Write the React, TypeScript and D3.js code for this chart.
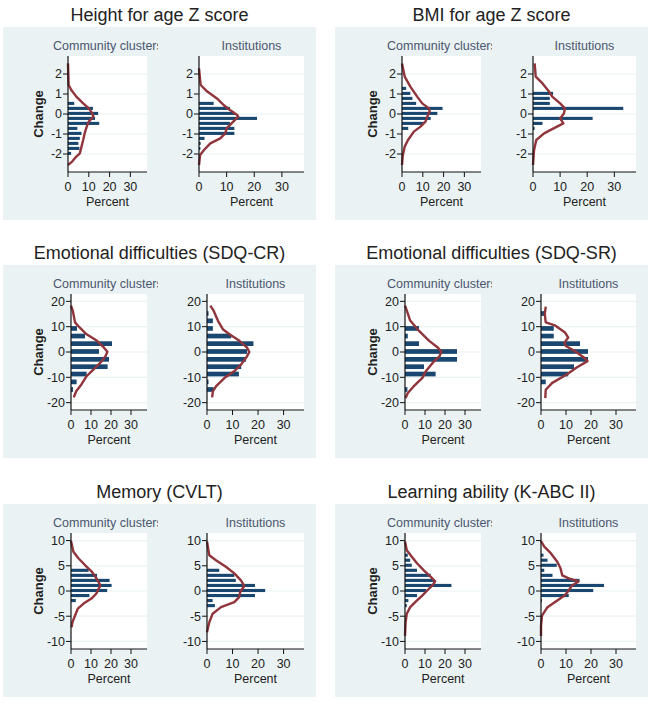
import React from "react";
import * as d3 from "d3";

type Pt = [number, number]; // [change, percent]

// Height for age Z score
const hfaCommBars: Pt[] = [[0.53, 3], [0.28, 12], [0.03, 14.5], [-0.22, 13], [-0.47, 15], [-0.72, 4.5], [-0.97, 6.5], [-1.22, 5.7], [-1.47, 5], [-1.72, 5.5], [-1.97, 1.5]];
const hfaCommCurve: Pt[] = [[2.53, 0], [1.45, 0.3], [1.2, 1.6], [0.87, 4], [0.53, 7.3], [0.28, 10], [0.03, 11.7], [-0.13, 12.2], [-0.38, 10], [-0.63, 9], [-0.97, 8], [-1.3, 7.3], [-1.63, 6.5], [-1.97, 5.7], [-2.13, 4], [-2.38, 2], [-2.55, 0]];
const hfaInstBars: Pt[] = [[0.53, 5.3], [0.28, 11.2], [0.03, 13], [-0.22, 21], [-0.47, 11.2], [-0.72, 12.8], [-0.97, 12.8], [-1.22, 2], [-1.47, 0.6], [-1.72, 0.5]];
const hfaInstCurve: Pt[] = [[2.28, 0], [1.45, 0.6], [1.12, 3], [0.78, 6.5], [0.45, 8.9], [0.2, 11.2], [-0.05, 13.8], [-0.13, 14.2], [-0.38, 12.4], [-0.72, 10], [-0.97, 9.5], [-1.22, 7.7], [-1.47, 4.1], [-1.8, 1.8], [-2.05, 0.4], [-2.55, 0]];

// BMI for age Z score
const bmiCommBars: Pt[] = [[1.28, 2], [1.03, 4], [0.78, 5], [0.53, 6.8], [0.28, 19.5], [0.03, 17], [-0.22, 13.8], [-0.47, 10.5], [-0.72, 3]];
const bmiCommCurve: Pt[] = [[2.53, 0], [1.87, 1.3], [1.37, 4], [0.87, 7.3], [0.53, 9.7], [0.28, 13], [0.12, 13.3], [-0.13, 12.2], [-0.38, 11.3], [-0.63, 8.9], [-0.88, 5.7], [-1.3, 2.9], [-1.63, 1.3], [-2.13, 0.3], [-2.55, 0]];
const bmiInstBars: Pt[] = [[1.03, 7.4], [0.78, 6.2], [0.53, 6.2], [0.28, 33.3], [-0.22, 22], [-0.47, 3.5], [-0.72, 0.6]];
const bmiInstCurve: Pt[] = [[2.53, 0.6], [1.87, 1], [1.53, 3.5], [1.12, 5.9], [0.87, 7.1], [0.53, 10], [0.28, 11.8], [0.03, 11.4], [-0.22, 10], [-0.47, 11.2], [-0.72, 7.6], [-0.97, 4.1], [-1.3, 1.2], [-1.8, 0.4], [-2.55, 0]];

// Emotional difficulties (SDQ-CR)
const crCommBars: Pt[] = [[9.3, 3], [6.3, 7], [3.3, 20.5], [0.2, 14], [-2.9, 19], [-5.8, 18.3], [-8.7, 7.8], [-11.8, 2.8], [-14.8, 1]];
const crCommCurve: Pt[] = [[18.3, 0], [16.3, 0.9], [11.7, 2], [9.7, 4.3], [7, 7.8], [4.4, 13], [1.7, 16.5], [0.1, 18.2], [-1.6, 17.3], [-4.2, 14.7], [-6.9, 11.3], [-9.5, 7.8], [-12.8, 5.2], [-15.5, 2.6], [-17.9, 1.4]];
const crInstBars: Pt[] = [[15.2, 0.6], [12.3, 2.3], [9.3, 2.3], [6.3, 9.5], [3.3, 18.2], [0.2, 15.7], [-2.9, 15.3], [-5.8, 13.4], [-8.7, 12.5], [-11.8, 0.6], [-14.8, 2.6]];
const crInstCurve: Pt[] = [[18.3, 1.3], [16.3, 2.6], [12.3, 4.3], [9, 6.2], [7, 8.8], [4.4, 12.7], [1.7, 15.7], [0, 16.6], [-2.3, 15.3], [-4.9, 13.4], [-7.5, 10.8], [-10.2, 6.9], [-13.5, 3.6], [-15.5, 2.3], [-17.9, 2]];

// Emotional difficulties (SDQ-SR)
const srCommBars: Pt[] = [[9.3, 7], [6.3, 1.4], [3.3, 7], [0.2, 26], [-2.9, 26], [-5.8, 9.5], [-8.7, 15.3], [-14.8, 1.2]];
const srCommCurve: Pt[] = [[18.3, 0], [16.3, 0.9], [12.4, 2.6], [8.4, 6.9], [4.4, 12.1], [1.7, 16.5], [0.1, 18.2], [-1.6, 17.3], [-4.2, 13.9], [-7.6, 10.4], [-10.2, 8.7], [-13.6, 4.3], [-16.2, 1.4], [-18.2, 0.3]];
const srInstBars: Pt[] = [[15.2, 1.7], [9.3, 5.1], [6.3, 5.1], [3.3, 15.6], [0.2, 18.8], [-2.9, 18.8], [-5.8, 13.2], [-8.7, 10.9], [-11.8, 1.9]];
const srInstCurve: Pt[] = [[17.9, 1.9], [15, 1.5], [11.7, 1.9], [10.4, 5.8], [7.7, 9.6], [5.7, 10.9], [3.7, 9.4], [2.4, 9.9], [0.4, 13.5], [-2.3, 17.3], [-3.6, 18.6], [-6.2, 14.1], [-8.9, 10.3], [-12.2, 4.5], [-14.9, 1.9], [-18.2, 1.7]];

// Memory (CVLT)
const cvltCommBars: Pt[] = [[4.1, 8.8], [3.1, 13], [2.1, 19.3], [1.1, 20.3], [0.1, 18.1], [-0.9, 9.2], [-1.9, 2.4]];
const cvltCommCurve: Pt[] = [[9.9, 0], [7.8, 1.2], [6.5, 3.7], [5.1, 7.1], [3.8, 10.5], [2.5, 12.7], [1.1, 14.7], [0.5, 13.9], [-0.5, 12.7], [-1.5, 10.2], [-2.5, 6.3], [-3.5, 3.4], [-4.9, 2], [-6.2, 0.7], [-7.2, 0.3]];
const cvltInstBars: Pt[] = [[4.1, 4.8], [3.1, 10.7], [2.1, 11.3], [1.1, 18.8], [0.1, 22.8], [-0.9, 18.8], [-1.9, 2.2], [-2.9, 3.1]];
const cvltInstCurve: Pt[] = [[9.8, 0], [7.1, 0.9], [6.1, 3.5], [4.8, 7.4], [3.5, 10.7], [2.1, 13.3], [1, 14.6], [-0.2, 13], [-1.2, 12.6], [-2.2, 10.7], [-3.2, 5.5], [-4.5, 2.2], [-6.2, 0.9], [-8.2, 0]];

// Learning ability (K-ABC II)
const kabcCommBars: Pt[] = [[7.1, 1.4], [6.1, 2.6], [5.1, 3.4], [4.1, 6], [3.1, 12.9], [2.1, 14.6], [1.1, 23.2], [0.1, 10.6], [-0.9, 6], [-1.9, 1.7], [-2.9, 0.9]];
const kabcCommCurve: Pt[] = [[9.8, 0], [8.1, 0.9], [6.8, 3.4], [5.5, 6], [4.1, 9.4], [2.8, 12.9], [1.9, 15.1], [1.1, 13.7], [0.1, 11.1], [-0.9, 8.6], [-2.2, 5.1], [-3.2, 2.6], [-4.5, 0.9], [-6.2, 0.3], [-8.9, 0]];
const kabcInstBars: Pt[] = [[7.1, 1], [6.1, 2.6], [5.1, 6.3], [4.1, 1.3], [3.1, 4.6], [2.1, 15.4], [1.1, 25.2], [0.1, 20.9], [-0.9, 11.1], [-1.9, 0.4]];
const kabcInstCurve: Pt[] = [[9.9, 0], [8.8, 1.3], [7.5, 3.9], [5.8, 6.5], [4.5, 7.8], [3.1, 8.5], [2.5, 11.1], [1.9, 15], [1.1, 12.4], [0.1, 11.1], [-0.9, 9.4], [-1.9, 6.5], [-3.2, 2.6], [-4.9, 0.4], [-6.9, 0], [-8.9, 0]];

const titles = ["Height for age Z score", "BMI for age Z score", "Emotional difficulties (SDQ-CR)", "Emotional difficulties (SDQ-SR)", "Memory (CVLT)", "Learning ability (K-ABC II)"];
const groupLabels = ["Community clusters", "Institutions"];
const xTicks = [0, 10, 20, 30];
const zTicks = [-2, -1, 0, 1, 2];
const sdqTicks = [-20, -10, 0, 10, 20];
const scoreTicks = [-10, -5, 0, 5, 10];

const BG = "#eaf2f3";
const BAR = "#1a476f";
const LINE = "#90353b";
const FONT = "'Liberation Sans', Arial, sans-serif";

const panels = [
  { title: titles[0], col: 0, row: 0, yMax: 2.9, ticks: zTicks, bin: 0.25, comm: [hfaCommBars, hfaCommCurve], inst: [hfaInstBars, hfaInstCurve] },
  { title: titles[1], col: 1, row: 0, yMax: 2.9, ticks: zTicks, bin: 0.25, comm: [bmiCommBars, bmiCommCurve], inst: [bmiInstBars, bmiInstCurve] },
  { title: titles[2], col: 0, row: 1, yMax: 22.9, ticks: sdqTicks, bin: 3, comm: [crCommBars, crCommCurve], inst: [crInstBars, crInstCurve] },
  { title: titles[3], col: 1, row: 1, yMax: 22.9, ticks: sdqTicks, bin: 3, comm: [srCommBars, srCommCurve], inst: [srInstBars, srInstCurve] },
  { title: titles[4], col: 0, row: 2, yMax: 11.5, ticks: scoreTicks, bin: 1, comm: [cvltCommBars, cvltCommCurve], inst: [cvltInstBars, cvltInstCurve] },
  { title: titles[5], col: 1, row: 2, yMax: 11.5, ticks: scoreTicks, bin: 1, comm: [kabcCommBars, kabcCommCurve], inst: [kabcInstBars, kabcInstCurve] },
];

const colX = [3, 335];
const rowY = [27, 265, 504];
const panelW = 313;
const panelH = 193;

function Hist({ left, right, top, bottom, yMax, ticks, bin, bars, curve }: any) {
  const x = d3.scaleLinear().domain([0, 38]).range([left, right]);
  const y = d3.scaleLinear().domain([-yMax, yMax]).range([bottom, top]);
  const line = d3.line<Pt>().x(d => x(d[1])).y(d => y(d[0]));
  const bh = Math.abs(y(0) - y(bin)) * 0.62;
  return (
    <g>
      <rect x={left} y={top} width={right - left} height={bottom - top} fill="#fff" />
      {/* grid */}
      {ticks.map((t: number) => (
        <line key={t} x1={left} x2={right} y1={y(t)} y2={y(t)} stroke={BG} strokeWidth={1.2} />
      ))}
      {/* bars */}
      {bars.map(([c, p]: Pt, i: number) => (
        <rect key={i} x={left} y={y(c) - bh / 2} width={x(p) - left} height={bh} fill={BAR} />
      ))}
      {/* density */}
      <path d={line(curve) || ""} fill="none" stroke={LINE} strokeWidth={2.4} strokeLinejoin="round" />
      {/* axes */}
      <line x1={left} x2={left} y1={top} y2={bottom} stroke="#111" strokeWidth={1.2} />
      <line x1={left} x2={right} y1={bottom} y2={bottom} stroke="#111" strokeWidth={1.2} />
      {ticks.map((t: number) => (
        <g key={t}>
          <line x1={left - 5} x2={left} y1={y(t)} y2={y(t)} stroke="#111" />
          <text x={left - 6} y={y(t)} dy="0.35em" textAnchor="end" fontSize={12.5} fill="#222">{t}</text>
        </g>
      ))}
      {xTicks.map(t => (
        <g key={t}>
          <line x1={x(t)} x2={x(t)} y1={bottom} y2={bottom + 5} stroke="#111" />
          <text x={x(t)} y={bottom + 19} textAnchor="middle" fontSize={12.5} fill="#222">{t}</text>
        </g>
      ))}
      <text x={(left + right) / 2} y={bottom + 33.5} textAnchor="middle" fontSize={12.5} fill="#222">Percent</text>
    </g>
  );
}

export default function App() {
  return (
    <svg width={658} height={712} style={{ position: "absolute", left: 0, top: 0, background: "#fff" }} fontFamily={FONT}>
      {panels.map((p, i) => {
        const L = colX[p.col];
        const T = rowY[p.row];
        const short = p.row === 0;
        const shift = p.col === 1 ? 2 : 0;
        const commL = L + (short ? 65 : 68) + shift;
        const commR = L + 144 + shift;
        const instL = L + (short ? 196 : 204) + shift;
        const instR = L + 301;
        const top = T + 29;
        const bottom = T + 145;
        const clipId = `clip-${i}`;
        return (
          <g key={i}>
            <text x={L + panelW / 2} y={T - 6} textAnchor="middle" fontSize={18} fill="#222">{p.title}</text>
            <rect x={L} y={T} width={panelW} height={panelH} fill={BG} />
            <clipPath id={clipId}>
              <rect x={L} y={T} width={155 + shift} height={40} />
            </clipPath>
            <text x={L + 50 + shift} y={T + 23} fontSize={12.5} fill="#4b5670" clipPath={`url(#${clipId})`}>{groupLabels[0]}</text>
            <text x={(instL + instR) / 2} y={T + 23} textAnchor="middle" fontSize={12.5} fill="#4b5670">{groupLabels[1]}</text>
            <text transform={`translate(${commL - (short ? 30 : 33)},${(top + bottom) / 2}) rotate(-90)`} textAnchor="middle" dy="0.35em" fontSize={13} fontWeight={600} fill="#222">Change</text>
            <Hist left={commL} right={commR} top={top} bottom={bottom} yMax={p.yMax} ticks={p.ticks} bin={p.bin} bars={p.comm[0]} curve={p.comm[1]} />
            <Hist left={instL} right={instR} top={top} bottom={bottom} yMax={p.yMax} ticks={p.ticks} bin={p.bin} bars={p.inst[0]} curve={p.inst[1]} />
          </g>
        );
      })}
    </svg>
  );
}
